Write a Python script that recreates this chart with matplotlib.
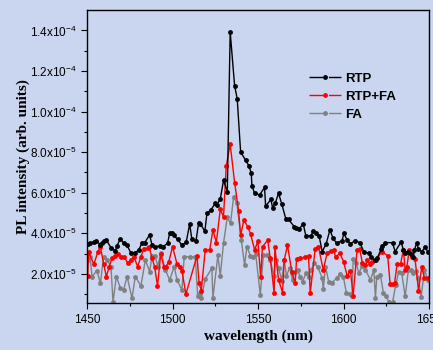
import numpy as np
import matplotlib
matplotlib.use('Agg')
import matplotlib.pyplot as plt
from matplotlib.lines import Line2D

#-------------------------------------------------------------------------------------
# data (intensity in units of 1e-5)
rtp_x = [1450.4, 1451.9, 1454.3, 1455.5, 1457.8, 1459.0, 1460.1, 1461.3, 1464.2, 1466.6,
         1467.5, 1469.5, 1471.4, 1473.4, 1475.7, 1478.2, 1480.2, 1482.1, 1483.7, 1486.6,
         1488.0, 1489.9, 1492.8, 1494.4, 1497.1, 1498.3, 1499.5, 1500.6, 1503.0, 1505.5,
         1508.0, 1510.0, 1511.3, 1513.7, 1515.2, 1516.2, 1518.9, 1520.1, 1522.4, 1525.0,
         1525.9, 1527.9, 1529.8, 1532.0, 1533.7, 1536.3, 1537.8, 1539.8, 1542.7, 1544.6,
         1546.0, 1546.4, 1548.0, 1550.9, 1553.8, 1554.4, 1557.5, 1558.5, 1560.0, 1562.0,
         1563.9, 1566.3, 1567.8, 1571.1, 1572.1, 1574.1, 1576.4, 1577.9, 1580.9, 1582.2,
         1583.8, 1585.7, 1587.5, 1589.8, 1592.0, 1593.9, 1595.9, 1599.2, 1600.1, 1602.1,
         1604.0, 1606.6, 1609.5, 1611.8, 1614.8, 1616.1, 1618.1, 1619.6, 1622.0, 1622.7,
         1624.3, 1628.6, 1630.1, 1633.6, 1635.0, 1636.0, 1637.9, 1639.5, 1640.8, 1641.4,
         1642.8, 1643.8, 1645.7, 1647.7, 1649.2]
rtp_y = [3.48, 3.51, 3.57, 3.64, 3.43, 3.51, 3.61, 3.67, 3.26, 3.15,
         3.38, 3.74, 3.51, 3.41, 3.02, 3.05, 3.18, 3.51, 3.54, 3.92,
         3.41, 3.34, 3.38, 3.34, 3.51, 4.00, 4.00, 3.90, 3.70, 3.41,
         3.57, 4.46, 3.70, 3.62, 4.49, 4.46, 4.11, 4.98, 5.15, 5.48,
         5.41, 5.69, 6.61, 6.05, 13.92, 11.26, 10.64, 8.00, 7.61, 7.33,
         6.98, 6.34, 5.97, 5.89, 6.26, 5.34, 5.67, 5.26, 5.48, 5.97,
         5.43, 4.69, 4.69, 4.33, 4.26, 4.23, 4.46, 3.89, 3.87, 4.11,
         4.00, 3.87, 3.10, 3.48, 4.16, 3.75, 3.51, 3.64, 4.00, 3.67,
         3.48, 3.64, 3.54, 3.10, 3.02, 2.82, 2.69, 2.77, 3.21, 3.38,
         3.54, 3.54, 3.10, 3.57, 3.18, 3.05, 3.10, 2.97, 2.82, 3.18,
         3.54, 3.21, 3.10, 3.31, 3.10]

rtpfa_x = [1450.4, 1450.9, 1454.0, 1456.3, 1457.8, 1459.7, 1461.3, 1463.0, 1464.6, 1466.6,
           1468.0, 1469.9, 1471.8, 1473.8, 1475.5, 1477.4, 1479.6, 1481.5, 1483.1, 1485.4,
           1486.4, 1488.0, 1489.5, 1491.2, 1493.1, 1494.9, 1496.1, 1497.8, 1500.0, 1502.6,
           1504.5, 1505.5, 1507.8, 1514.3, 1515.5, 1516.8, 1519.1, 1521.7, 1523.6, 1525.6,
           1527.9, 1529.8, 1531.4, 1533.7, 1536.3, 1538.6, 1539.8, 1541.7, 1544.1, 1545.6,
           1548.0, 1549.9, 1551.5, 1552.6, 1555.6, 1557.1, 1559.4, 1559.8, 1562.0, 1564.3,
           1565.3, 1567.2, 1569.8, 1571.7, 1572.5, 1574.4, 1577.2, 1579.5, 1580.5, 1583.4,
           1585.3, 1588.1, 1590.4, 1592.4, 1594.3, 1595.3, 1597.8, 1600.0, 1602.1, 1604.0,
           1605.6, 1607.9, 1609.5, 1610.9, 1612.8, 1613.8, 1615.3, 1616.7, 1619.2, 1622.3,
           1625.8, 1627.2, 1628.6, 1629.8, 1631.3, 1633.3, 1635.0, 1636.0, 1637.0, 1638.4,
           1639.9, 1641.8, 1643.8, 1645.7, 1647.3, 1649.6]
rtpfa_y = [1.92, 3.07, 2.48, 3.07, 3.34, 2.49, 1.87, 2.36, 2.77, 2.89,
           2.98, 2.85, 2.82, 2.52, 2.70, 2.85, 2.36, 2.85, 3.21, 3.26,
           3.31, 2.77, 2.36, 1.41, 2.98, 2.36, 2.36, 2.60, 3.34, 2.49,
           2.36, 2.16, 1.00, 2.89, 1.54, 1.18, 3.18, 3.18, 4.16, 3.54,
           5.18, 4.82, 7.33, 8.39, 6.49, 5.11, 3.90, 4.66, 4.30, 3.97,
           3.18, 3.62, 1.87, 3.34, 3.66, 2.80, 1.05, 3.34, 1.70, 1.08,
           2.69, 3.41, 2.07, 1.54, 2.72, 2.77, 2.82, 2.89, 1.05, 3.23,
           3.34, 2.20, 3.02, 3.13, 3.18, 2.82, 3.02, 2.60, 1.90, 2.16,
           0.92, 3.18, 3.21, 2.56, 2.44, 2.66, 2.49, 2.61, 2.69, 3.10,
           2.89, 1.51, 1.51, 1.54, 2.49, 2.49, 3.18, 2.20, 2.36, 3.18,
           2.82, 2.72, 1.18, 2.33, 1.79, 1.79]

fa_x = [1450.4, 1451.9, 1452.9, 1455.8, 1457.8, 1459.7, 1461.7, 1464.0, 1465.2, 1467.1,
        1469.5, 1471.4, 1473.4, 1476.3, 1478.2, 1481.5, 1484.1, 1486.6, 1488.0, 1489.9,
        1491.3, 1493.2, 1495.8, 1498.3, 1501.0, 1502.6, 1505.5, 1506.8, 1510.4, 1513.3,
        1514.7, 1516.2, 1516.8, 1519.1, 1523.0, 1523.6, 1526.5, 1527.9, 1529.8, 1532.0,
        1533.9, 1535.7, 1537.6, 1540.2, 1542.1, 1543.5, 1545.5, 1547.0, 1548.6, 1551.3,
        1553.1, 1555.1, 1557.0, 1559.4, 1560.4, 1562.0, 1563.9, 1565.3, 1566.6, 1568.4,
        1570.2, 1571.5, 1573.1, 1574.6, 1576.0, 1578.0, 1579.5, 1580.9, 1582.9, 1584.8,
        1587.5, 1588.1, 1589.4, 1591.3, 1593.3, 1595.9, 1597.8, 1599.8, 1601.7, 1603.7,
        1605.0, 1605.6, 1607.5, 1608.9, 1610.9, 1612.8, 1615.7, 1617.7, 1618.6, 1619.4,
        1621.5, 1623.3, 1624.9, 1626.7, 1628.6, 1630.5, 1632.2, 1634.0, 1636.0, 1637.9,
        1639.5, 1640.8, 1642.3, 1643.8, 1645.3, 1647.3, 1649.2]
fa_y = [2.69, 2.82, 1.87, 2.16, 1.54, 2.85, 2.69, 2.36, 0.59, 1.87,
        1.30, 1.21, 1.87, 0.80, 1.87, 1.41, 2.69, 2.11, 2.89, 2.89,
        2.36, 3.05, 2.20, 1.70, 2.36, 1.70, 1.21, 2.85, 2.85, 2.82,
        0.89, 1.05, 0.80, 1.74, 2.28, 0.80, 2.93, 1.92, 3.51, 4.79,
        4.49, 5.80, 5.48, 3.67, 2.44, 3.34, 2.90, 2.85, 3.00, 0.97,
        2.93, 2.93, 2.70, 1.90, 2.69, 2.30, 1.67, 2.70, 1.90, 2.30,
        1.70, 2.10, 2.20, 1.87, 1.62, 2.03, 1.87, 2.20, 2.52, 2.36,
        1.79, 1.25, 2.36, 1.62, 1.57, 1.79, 1.98, 1.87, 1.05, 1.02,
        0.92, 2.72, 2.52, 2.03, 2.39, 2.20, 1.70, 2.20, 0.80, 1.84,
        1.95, 1.05, 0.89, 0.59, 0.59, 1.46, 2.10, 2.03, 0.89, 2.20,
        2.20, 2.03, 2.15, 1.79, 0.85, 2.20, 1.70]

names = ['RTP', 'RTP+FA', 'FA']
colors = ['black', 'red', 'gray']

xticks = [1450, 1500, 1550, 1600, 1650]
yticks = [2.0e-5, 4.0e-5, 6.0e-5, 8.0e-5, 1.0e-4, 1.2e-4, 1.4e-4]
ylabels = ['2.0x10$^{-5}$', '4.0x10$^{-5}$', '6.0x10$^{-5}$', '8.0x10$^{-5}$',
           '1.0x10$^{-4}$', '1.2x10$^{-4}$', '1.4x10$^{-4}$']
#-------------------------------------------------------------------------------------

plt.rcParams['font.family'] = ['Liberation Sans', 'DejaVu Sans']
plt.rcParams['mathtext.default'] = 'regular'

bg = '#cad6ef'
fig = plt.figure(figsize=(4.33, 3.5), dpi=100, facecolor=bg)
ax = fig.add_axes([0.201, 0.134, 0.790, 0.837])
ax.set_facecolor(bg)

scale = 1e-5
series = [(fa_x, fa_y), (rtpfa_x, rtpfa_y), (rtp_x, rtp_y)]
for (xs, ys), c in zip(series, colors[::-1]):
    ax.plot(xs, np.array(ys) * scale, color=c, linewidth=1.0, marker='o',
            markersize=3.5, markeredgewidth=0)

ax.set_xlim(1450, 1650)
ax.set_ylim(0.56e-5, 1.5e-4)
ax.set_xticks(xticks)
ax.set_xticks(np.arange(1475, 1650, 50), minor=True)
ax.set_yticks(yticks)
ax.set_yticklabels(ylabels)
ax.set_yticks(np.arange(1e-5, 1.5e-4, 2e-5), minor=True)
ax.tick_params(which='major', direction='out', length=4, width=0.8, labelsize=8.5)
ax.tick_params(which='minor', direction='out', length=2.5, width=0.8)
for s in ax.spines.values():
    s.set_linewidth(1.0)

ax.set_xlabel('wavelength (nm)', family='Liberation Serif', fontweight='bold',
              fontsize=11, labelpad=3)
ax.set_ylabel('PL intensity (arb. units)', family='Liberation Serif', fontweight='bold',
              fontsize=11, labelpad=0)

handles = [Line2D([], [], color=c, linewidth=1.0, marker='o', markersize=3.5,
                  markeredgewidth=0, dashes=(10, 4)) for c in colors]
ax.legend(handles, names, loc='upper left', bbox_to_anchor=(0.63, 0.81), frameon=False,
          handlelength=2.4, handletextpad=0.3, labelspacing=0.45, borderpad=0,
          prop={'weight': 'bold', 'size': 9.5})

plt.savefig('out.png', dpi=100, facecolor=bg)
